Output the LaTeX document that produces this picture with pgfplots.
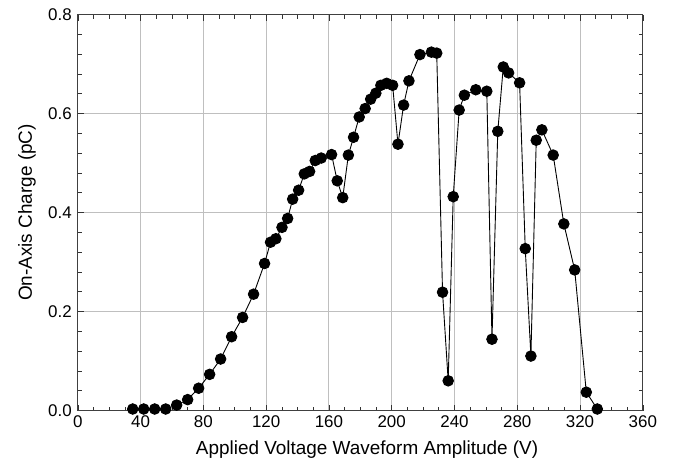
\documentclass[border=0pt]{standalone}
\usepackage{fontspec}
\setmainfont{Liberation Sans}
\usepackage{pgfplots}
\pgfplotsset{compat=1.18}
\begin{document}
\begin{tikzpicture}
\useasboundingbox (0,0) rectangle (673bp,475bp);
\begin{axis}[
  scale only axis, width=565bp, height=396bp,
  at={(77.8bp,64.5bp)}, anchor=south west,
  xmin=0, xmax=360, ymin=0, ymax=0.8,
  xtick={0,40,80,120,160,200,240,280,320,360}, minor x tick num=3,
  ytick={0,0.2,0.4,0.6,0.8}, minor y tick num=4,
  tick align=inside,
  grid=major, major grid style={black!25, line width=0.9pt},
  tick style={black!80, line width=0.6pt},
  major tick length=6bp, minor tick length=4bp,
  axis line style={black!75, line width=0.9pt},
  /pgf/number format/assume math mode=true,
  yticklabel style={/pgf/number format/.cd, fixed, fixed zerofill, precision=1, /tikz/.cd, xshift=-2.5bp},
  xticklabel style={yshift=-2bp},
  ticklabel style={font=\fontsize{17}{19}\selectfont},
  label style={font=\fontsize{19}{22}\selectfont},
  xlabel={Applied Voltage Waveform Amplitude (V)},
  ylabel={On-Axis Charge (pC)},
  xlabel style={at={(axis description cs:0.512,-0.0985)}, anchor=center},
  ylabel style={at={(axis description cs:-0.09,0.5)}, anchor=center},
  clip=false,
]
\addplot[black, line width=0.9bp, mark=*, mark size=5.3bp, mark options={fill=black, draw=black}] coordinates {
(35,0.003) (42,0.003) (49,0.003) (56,0.003) (63,0.011) (70,0.022) (77,0.045)
(84,0.073) (91,0.104) (98,0.149) (105,0.188) (112,0.235) (119,0.297)
(122.8,0.340) (126.2,0.347) (130.1,0.370) (133.7,0.388) (136.9,0.427)
(140.7,0.445) (144.3,0.478) (147.7,0.483) (151.3,0.505) (155.1,0.510)
(161.7,0.517) (165.3,0.464) (168.8,0.430) (172.4,0.516) (175.7,0.552)
(179.3,0.593) (183.1,0.610) (186.6,0.629) (189.9,0.641) (193.1,0.657)
(196.8,0.661) (200.6,0.657) (204.0,0.538) (207.6,0.617) (211.0,0.666)
(218.0,0.719) (225.3,0.724) (228.7,0.722) (232.4,0.239) (236.0,0.060)
(239.2,0.432) (243.0,0.607) (246.3,0.637) (253.6,0.648) (260.6,0.645)
(263.9,0.144) (267.6,0.564) (271.1,0.694) (274.5,0.682) (281.5,0.662)
(285.1,0.327) (288.7,0.110) (292.1,0.546) (295.7,0.567) (302.9,0.516)
(309.7,0.377) (316.6,0.284) (324.0,0.037) (331.0,0.003)
};
\end{axis}
\end{tikzpicture}
\end{document}
